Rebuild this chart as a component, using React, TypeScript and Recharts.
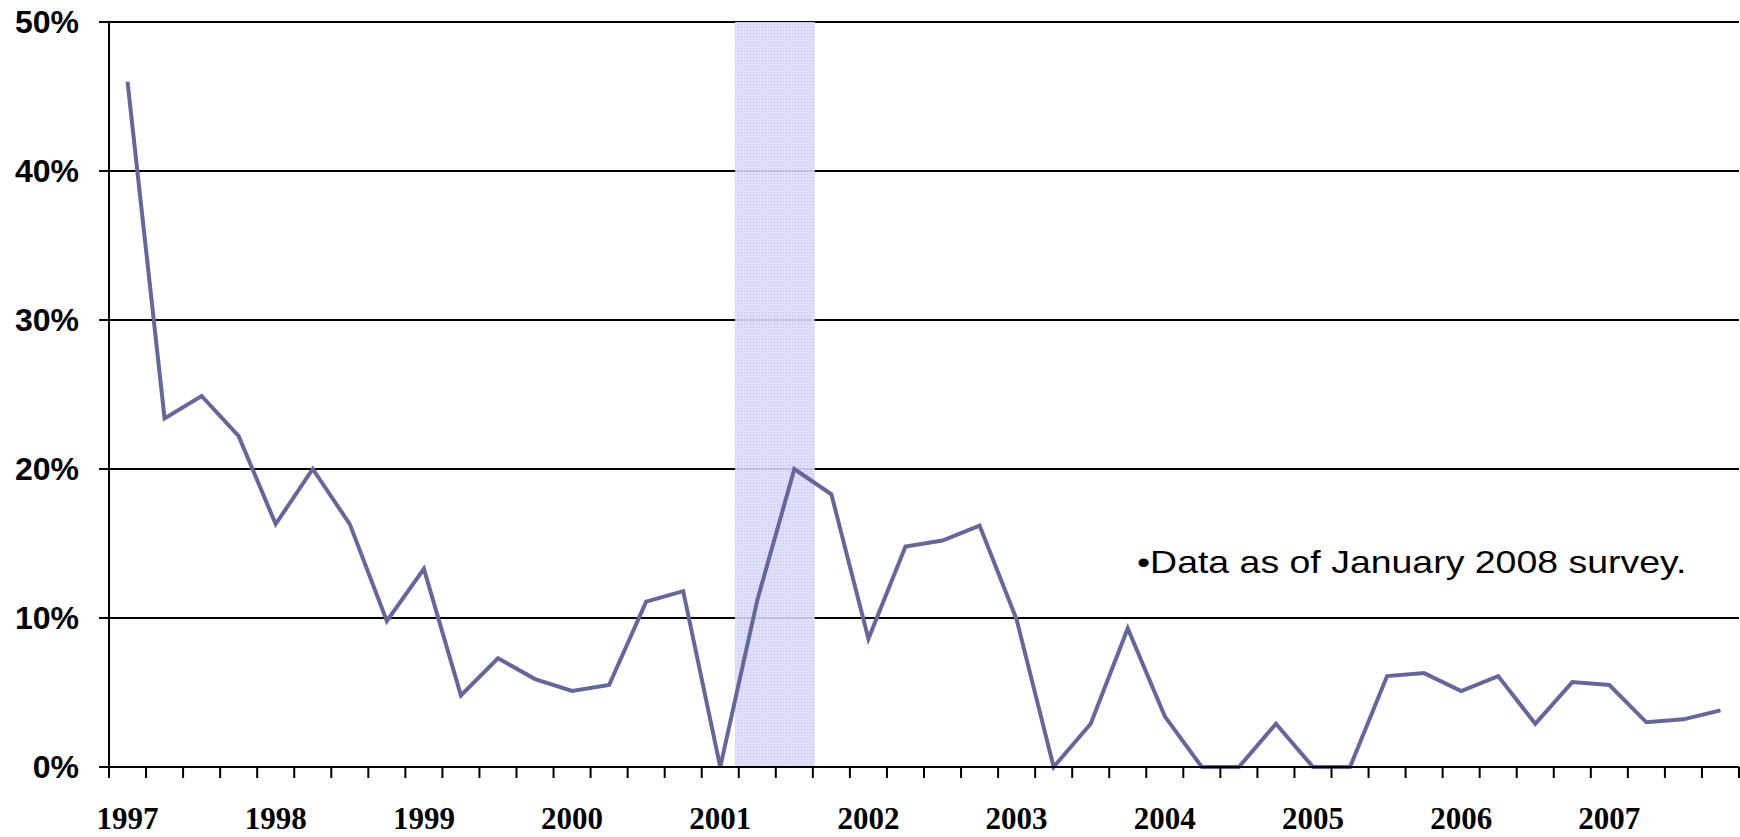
import React from 'react';
import { LineChart, Line, XAxis, YAxis, CartesianGrid, ReferenceArea } from 'recharts';

// quarterly values, 1997 Q1 .. 2007 Q4 (percent)
const years = ['1997', '1998', '1999', '2000', '2001', '2002', '2003', '2004', '2005', '2006', '2007'];
const values = [
  46.0, 23.4, 24.9, 22.2,
  16.3, 20.0, 16.3, 9.8,
  13.3, 4.8, 7.3, 5.9,
  5.1, 5.5, 11.1, 11.8,
  0, 11.2, 20.0, 18.3,
  8.6, 14.8, 15.2, 16.2,
  9.9, 0, 2.9, 9.3,
  3.4, 0, 0, 2.9,
  0, 0, 6.1, 6.3,
  5.1, 6.1, 2.9, 5.7,
  5.5, 3.0, 3.2, 3.8,
];
const yTicks = [0, 10, 20, 30, 40, 50];
// shaded recession band, in quarter-index units
const recessionStart = 16.4;
const recessionEnd = 18.55;
const note = '•Data as of January 2008 survey.';

const data = values.map((v, i) => ({ q: i, value: v }));
const quarterEdges = Array.from({ length: values.length + 1 }, (_, i) => i - 0.5);
const yearTicks = years.map((_, i) => i * 4);
const xTicks = [...quarterEdges, ...yearTicks].sort((a, b) => a - b);

function QuarterTick(props: any) {
  const { x, y, payload } = props;
  const v = payload.value;
  if (!Number.isInteger(v)) {
    return <line x1={x} x2={x} y1={y} y2={y + 11} stroke="#000" strokeWidth={2} />;
  }
  return (
    <text
      x={x}
      y={y + 62}
      textAnchor="middle"
      fill="#000"
      fontSize={31}
      fontWeight="bold"
      fontFamily="'Liberation Serif', 'Times New Roman', serif"
    >
      {years[v / 4]}
    </text>
  );
}

export default function App() {
  return (
    <div style={{ position: 'absolute', left: 0, top: 0, width: 1740, height: 837, background: '#fff' }}>
      <LineChart width={1740} height={837} data={data} margin={{ top: 22, right: 1, left: 0, bottom: 0 }}>
        <defs>
          <pattern id="recDots" width="3" height="3" patternUnits="userSpaceOnUse">
            <rect width="3" height="3" fill="#dcdcfc" />
            <rect width="1" height="1" fill="#bcbcf0" />
          </pattern>
        </defs>
        <CartesianGrid vertical={false} stroke="#000" strokeWidth={2} />
        <ReferenceArea
          x1={recessionStart}
          x2={recessionEnd}
          y1={0}
          y2={50}
          fill="url(#recDots)"
          fillOpacity={0.9}
          stroke="none"
        />
        <XAxis
          type="number"
          dataKey="q"
          domain={[-0.5, values.length - 0.5]}
          ticks={xTicks}
          interval={0}
          tickLine={false}
          tickSize={0}
          tickMargin={0}
          height={70}
          axisLine={{ stroke: '#000', strokeWidth: 2 }}
          tick={<QuarterTick />}
        />
        <YAxis
          domain={[0, 50]}
          ticks={yTicks}
          width={109}
          tickSize={10}
          tickMargin={20}
          tickLine={{ stroke: '#000', strokeWidth: 2 }}
          axisLine={{ stroke: '#000', strokeWidth: 2 }}
          tickFormatter={(v) => `${v}%`}
          tick={{ fill: '#000', fontSize: 32, fontWeight: 'bold', fontFamily: "'Liberation Sans', Arial, sans-serif" }}
        />
        <Line
          type="linear"
          dataKey="value"
          stroke="#666699"
          strokeWidth={4}
          dot={false}
          isAnimationActive={false}
        />
      </LineChart>
      <div
        style={{
          position: 'absolute',
          left: 1137,
          top: 546,
          fontSize: 32,
          lineHeight: 1,
          fontFamily: "'Liberation Sans', Arial, sans-serif",
          color: '#000',
          whiteSpace: 'nowrap',
          transform: 'scaleX(1.17)',
          transformOrigin: 'left top',
        }}
      >
        {note}
      </div>
    </div>
  );
}
